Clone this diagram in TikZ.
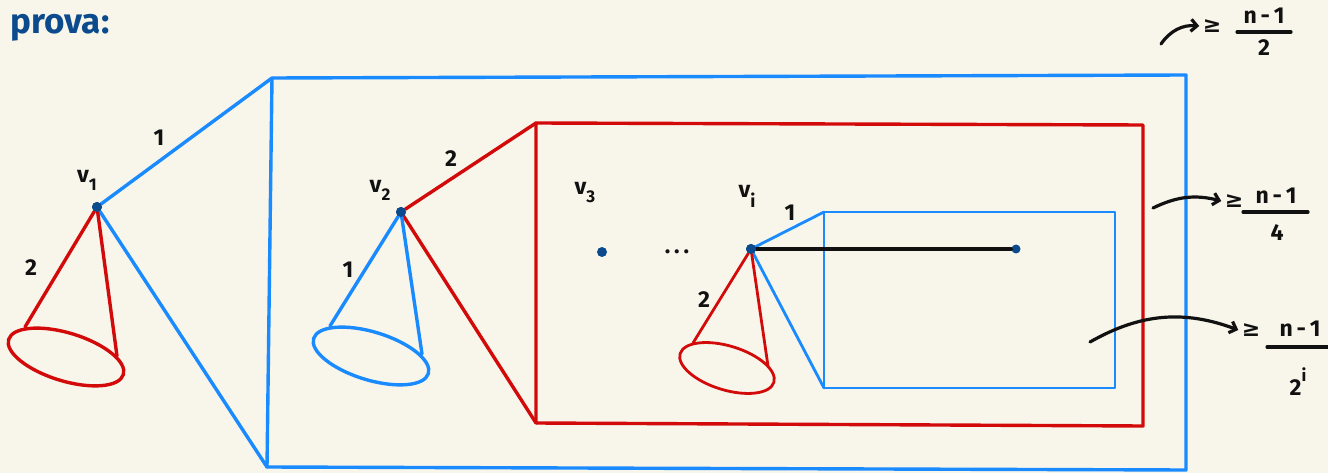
\documentclass[tikz,border=0pt]{standalone}
\usepackage{fontspec}
\setmainfont{Fira Sans}
\newfontfamily\symfont{DejaVu Sans}
\usetikzlibrary{arrows.meta}
\definecolor{paper}{HTML}{F8F6EB}
\definecolor{boxblue}{HTML}{1A8AFF}
\definecolor{boxred}{HTML}{D20A0A}
\definecolor{dotblue}{HTML}{0B4A8C}
\definecolor{inkk}{HTML}{111111}
\newcommand{\vlab}[2]{v\raisebox{-8pt}{\fontsize{17}{17}\selectfont #2}}

\begin{document}
\begin{tikzpicture}[x=1pt,y=-1pt,line cap=round,line join=round,
  bl/.style={draw=boxblue,line width=3.4pt},
  rd/.style={draw=boxred,line width=3.4pt},
  vtx/.style={circle,fill=dotblue,inner sep=0pt,minimum size=10pt},
  lab/.style={text=inkk,font=\fontsize{23}{25}\selectfont\bfseries},
  geq/.style={text=inkk,font=\symfont\fontsize{22}{22}\selectfont\bfseries},
  curv/.style={draw=inkk,line width=3.2pt,-{Straight Barb[length=6pt,width=12pt]}},
  bar/.style={draw=inkk,line width=3.2pt}]
\fill[paper] (0,0) rectangle (1328,473);
\useasboundingbox (0,0) rectangle (1328,473);
\node[text=dotblue,font=\fontsize{35}{37}\selectfont\bfseries] (title) at (60,28) {prova:};

% vertices
\node[vtx] (v1) at (97,207) {}; \node[vtx] (v2) at (401,212) {};
\node[vtx] (v3) at (602,252) {}; \node[vtx] (vi) at (751,249) {};
\node[vtx,minimum size=9pt] (vend) at (1016,249) {};
\node[lab] (l1) at (87,180) {\vlab{v}{1}}; \node[lab] (l2) at (380,190) {\vlab{v}{2}};
\node[lab] (l3) at (585,193) {\vlab{v}{3}}; \node[lab] (li) at (747,196) {v\raisebox{-10pt}{\fontsize{18}{18}\selectfont i}};
\node[lab] (dots) at (677,252) {.\,.\,.};

% outer blue box
\coordinate (B1a) at (272,78); \coordinate (B1b) at (1186,75); \coordinate (B1c) at (1186,470); \coordinate (B1d) at (267,467);
\draw[bl] (B1a) -- (B1b) -- (B1c) -- (B1d) -- cycle;
\draw[bl] (B1a) -- (v1) -- (B1d);
% red box
\coordinate (B2a) at (536,123); \coordinate (B2b) at (1143,125); \coordinate (B2c) at (1143,426); \coordinate (B2d) at (536,423);
\draw[rd] (B2a) -- (B2b) -- (B2c) -- (B2d) -- cycle;
\draw[rd] (B2a) -- (v2) -- (B2d);
% inner blue box
\coordinate (B3a) at (824,212); \coordinate (B3b) at (1115,212); \coordinate (B3c) at (1115,388); \coordinate (B3d) at (824,388);
\draw[bl,line width=2.8pt] (B3a) -- (B3b) -- (B3c) -- (B3d) -- cycle;
\draw[bl,line width=2.8pt] (B3a) -- (vi) -- (B3d);
\draw[draw=inkk,line width=3.2pt] (vi) -- (vend);

% cones
\coordinate (c1) at (66,357); \coordinate (c1l) at (25,327); \coordinate (c1r) at (117,356);
\draw[rd] (c1l) -- (v1) -- (c1r); \draw[rd,rotate around={-17:(c1)}] (c1) ellipse [x radius=60,y radius=24];
\coordinate (c2) at (371,356); \coordinate (c2l) at (330,326); \coordinate (c2r) at (422,354);
\draw[bl] (c2l) -- (v2) -- (c2r); \draw[bl,rotate around={-17:(c2)}] (c2) ellipse [x radius=60,y radius=24];
\coordinate (c3) at (727,368); \coordinate (c3l) at (693,343); \coordinate (c3r) at (768,366);
\draw[rd,line width=2.8pt] (c3l) -- (vi) -- (c3r); \draw[rd,line width=2.8pt,rotate around={-17:(c3)}] (c3) ellipse [x radius=49,y radius=22];
\node[vtx] at (vi) {}; \node[vtx] at (v1) {}; \node[vtx] at (v2) {};

% weights
\node[lab] (w1) at (159,138) {1}; \node[lab] (w2) at (31,268) {2};
\node[lab] (w3) at (451,159) {2}; \node[lab] (w4) at (348,270) {1};
\node[lab] (w5) at (790,213) {1}; \node[lab] (w6) at (704,300) {2};

% bounds
\coordinate (a1) at (1161,44); \node[geq] (g1) at (1212,26) {≥};
\draw[curv] (a1) to[bend left=30] (g1.west);
\node[lab] (n1) at (1264,16) {n\,-\,1}; \node[lab] (d1) at (1264,48) {2};
\draw[bar] (1237,32) -- (1291,32);
\coordinate (a2) at (1153,208); \node[geq] (g2) at (1234,201) {≥};
\draw[curv] (a2) to[bend left=20] (g2.west);
\node[lab] (n2) at (1276,196) {n\,-\,1}; \node[lab] (d2) at (1277,233) {4};
\draw[bar] (1243,212) -- (1308,212);
\coordinate (a3) at (1090,342); \node[geq] (g3) at (1251,330) {≥};
\draw[curv] (a3) to[bend left=25] (g3.west);
\node[lab] (n3) at (1300,329) {n\,-\,1}; \node[lab] (d3) at (1298,382) {2\raisebox{14pt}{\fontsize{17}{17}\selectfont i}};
\draw[bar] (1267,347) -- (1328,347);
\end{tikzpicture}
\end{document}
